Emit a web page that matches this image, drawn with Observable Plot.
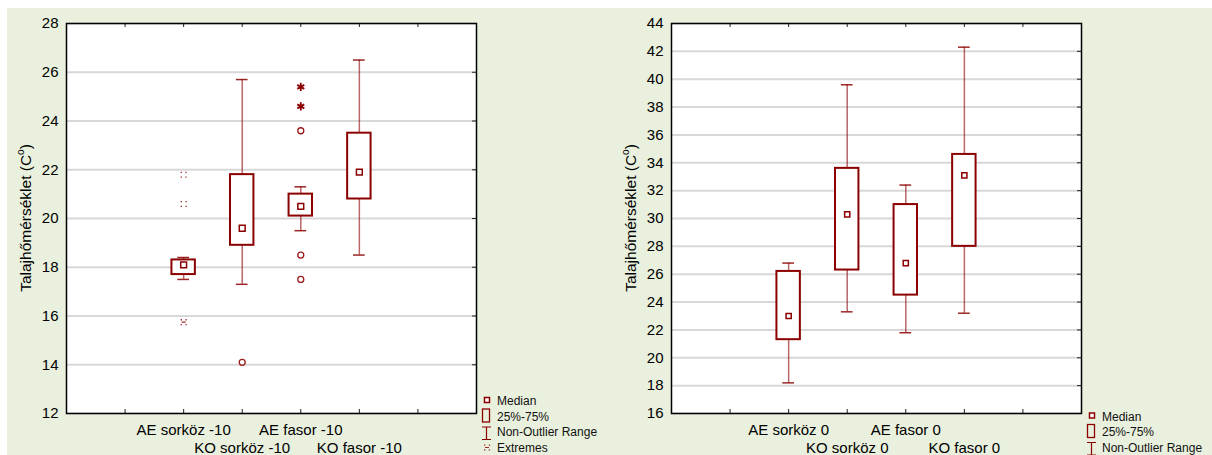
<!DOCTYPE html>
<html>
<head>
<meta charset="utf-8">
<script src="https://cdn.jsdelivr.net/npm/d3@7"></script>
<script src="https://cdn.jsdelivr.net/npm/@observablehq/plot@0.6"></script>
<style>
  body { margin: 0; background: #fff; }
  #wrap { position: relative; width: 1212px; height: 455px; overflow: hidden; background: #fff;
          font-family: "Liberation Sans", Arial, sans-serif; }
  #bg { position: absolute; left: 7px; top: 8px; right: 0; bottom: 0; background: #e9f0dd; }
  .panel { position: absolute; top: 0; }
</style>
</head>
<body>
<div id="wrap">
  <div id="bg"></div>
  <div id="p1" class="panel" style="left:0px"></div>
  <div id="p2" class="panel" style="left:605px"></div>
</div>
<script>
// ---------- DATA ----------
const yLabelMain = "Talajhőmérséklet (C";
const yLabelSup = "o";
const yLabelEnd = ")";

// Left panel (-10)
const leftCategories = ["AE sorköz -10", "KO sorköz -10", "AE fasor -10", "KO fasor -10"];
const leftWhiskerLow = [17.5, 17.3, 19.5, 18.5];
const leftQ1 = [17.7, 18.9, 20.1, 20.8];
const leftMedian = [18.1, 19.6, 20.5, 21.9];
const leftQ3 = [18.3, 21.8, 21.0, 23.5];
const leftWhiskerHigh = [18.4, 25.7, 21.3, 26.5];
const leftOutlierCats = ["KO sorköz -10", "AE fasor -10", "AE fasor -10", "AE fasor -10"];
const leftOutlierValues = [14.1, 23.6, 18.5, 17.5];
const leftExtremeCats = ["AE sorköz -10", "AE sorköz -10", "AE sorköz -10", "AE fasor -10", "AE fasor -10"];
const leftExtremeValues = [21.8, 20.6, 15.75, 25.4, 24.6];
const leftYDomain = [12, 28];

// Right panel (0)
const rightCategories = ["AE sorköz 0", "KO sorköz 0", "AE fasor 0", "KO fasor 0"];
const rightWhiskerLow = [18.2, 23.3, 21.8, 23.2];
const rightQ1 = [21.3, 26.3, 24.5, 28.0];
const rightMedian = [23.0, 30.3, 26.8, 33.1];
const rightQ3 = [26.2, 33.6, 31.0, 34.6];
const rightWhiskerHigh = [26.8, 39.6, 32.4, 42.3];
const rightYDomain = [16, 44];

// Legend labels
const legendMedian = "Median";
const legendBox = "25%-75%";
const legendRange = "Non-Outlier Range";
const legendExtremes = "Extremes";

// ---------- DRAWING ----------
const RED = "#8b0000";
const FONT = "'Liberation Sans', Arial, sans-serif";

const fourDots = {
  draw(ctx) {
    for (const [dx, dy] of [[-3, -3], [1.8, -3], [-3, 1.8], [1.8, 1.8]]) ctx.rect(dx, dy, 1.3, 1.3);
  }
};
const fourDotsDash = {
  draw(ctx) {
    for (const [dx, dy] of [[-3, -3], [1.8, -3], [-3, 1.8], [1.8, 1.8]]) ctx.rect(dx, dy, 1.3, 1.3);
    ctx.rect(-2, -0.6, 4, 1.2);
  }
};

function boxChart(el, cfg) {
  const cats = cfg.categories;
  const rows = cats.map((c, i) => ({cat: c, low: cfg.low[i], q1: cfg.q1[i], med: cfg.med[i], q3: cfg.q3[i], high: cfg.high[i]}));
  const slot = c => cats.indexOf(c) + 2;
  const outliers = (cfg.outlierCats || []).map((c, i) => ({cat: c, v: cfg.outlierValues[i]}));
  const extremes = (cfg.extremeCats || []).map((c, i) => ({cat: c, v: cfg.extremeValues[i]}));
  const rowOf = c => rows[cats.indexOf(c)];
  const isDotted = d => (rowOf(d.cat).q3 - rowOf(d.cat).q1) < 0.8;
  const dottedUp = extremes.filter(d => isDotted(d) && d.v > rowOf(d.cat).high);
  const dottedDown = extremes.filter(d => isDotted(d) && d.v < rowOf(d.cat).low);
  const stars = extremes.filter(d => !isDotted(d));

  const yTicks = d3.range(cfg.yDomain[0], cfg.yDomain[1] + 0.001, 2);
  const xTicks = d3.range(1, 7);
  const H = 455, mt = 23, mb = 42;
  const inner = H - mt - mb;

  const svg = Plot.plot({
    width: 606, height: H,
    marginLeft: 66, marginRight: 130, marginTop: mt, marginBottom: mb,
    style: {background: "transparent", fontFamily: FONT, color: "#000", overflow: "visible"},
    x: {type: "linear", domain: [0, 7], axis: null},
    y: {domain: cfg.yDomain, axis: null},
    marks: [
      Plot.frame({fill: "white"}),
      Plot.gridY(yTicks, {stroke: "#d8d8d8", strokeWidth: 2, strokeOpacity: 1}),
      Plot.tickX(xTicks, {x: d => d, insetBottom: inner - 4, stroke: "#222"}),
      Plot.tickX(xTicks, {x: d => d, insetTop: inner - 4, stroke: "#222"}),
      Plot.tickY(yTicks, {y: d => d, insetLeft: 406, stroke: "#222"}),
      Plot.axisY(yTicks, {tickSize: 0, tickPadding: 8, fontSize: 15, fill: "#000", label: null}),
      // whiskers
      Plot.ruleX(rows, {x: d => slot(d.cat), y1: "low", y2: "q1", stroke: RED, strokeOpacity: 0.6, strokeWidth: 1.5}),
      Plot.ruleX(rows, {x: d => slot(d.cat), y1: "q3", y2: "high", stroke: RED, strokeOpacity: 0.6, strokeWidth: 1.5}),
      Plot.ruleY(rows, {y: "low", x1: d => slot(d.cat) - 0.1, x2: d => slot(d.cat) + 0.1, stroke: RED, strokeWidth: 1.5, strokeOpacity: 0.85}),
      Plot.ruleY(rows, {y: "high", x1: d => slot(d.cat) - 0.1, x2: d => slot(d.cat) + 0.1, stroke: RED, strokeWidth: 1.5, strokeOpacity: 0.85}),
      // boxes
      Plot.rect(rows, {x1: d => slot(d.cat) - 0.2, x2: d => slot(d.cat) + 0.2, y1: "q1", y2: "q3", fill: "white", stroke: RED, strokeWidth: 2}),
      // medians
      Plot.dot(rows, {x: d => slot(d.cat), y: "med", symbol: "square", r: cfg.medR, fill: "white", stroke: RED, strokeWidth: 1.5}),
      // outliers
      Plot.dot(outliers, {x: d => slot(d.cat), y: "v", symbol: "circle", r: 3, fill: "none", stroke: "#9b1c1c", strokeWidth: 1.3}),
      // extremes
      Plot.dot(dottedUp, {x: d => slot(d.cat), y: "v", symbol: fourDots, fill: "#a52a2a", stroke: "none"}),
      Plot.dot(dottedDown, {x: d => slot(d.cat), y: "v", symbol: fourDotsDash, fill: "#a52a2a", stroke: "none"}),
      Plot.dot(stars, {x: d => slot(d.cat), y: "v", symbol: "asterisk", r: 3.8, fill: "none", stroke: RED, strokeWidth: 1.8}),
      Plot.frame({stroke: "#000", strokeWidth: 1.5}),
      // staggered category labels
      Plot.text(cats.filter((_, i) => i % 2 === 0), {x: d => slot(d), text: d => d, frameAnchor: "bottom", lineAnchor: "bottom", dy: 21, fontSize: 15, fill: "#000"}),
      Plot.text(cats.filter((_, i) => i % 2 === 1), {x: d => slot(d), text: d => d, frameAnchor: "bottom", lineAnchor: "bottom", dy: 39, fontSize: 15, fill: "#000"})
    ]
  });

  const s = d3.select(svg);
  // y axis label with superscript
  const t = s.append("text")
    .attr("transform", `translate(31,${mt + inner / 2}) rotate(-90)`)
    .attr("text-anchor", "middle")
    .attr("font-family", FONT)
    .attr("font-size", 15.5)
    .attr("fill", "#000");
  t.append("tspan").text(yLabelMain);
  t.append("tspan").attr("font-size", 10).attr("dy", -7).text(yLabelSup);
  t.append("tspan").attr("dy", 7).text(yLabelEnd);

  // legend
  const items = cfg.legend;
  const lastBase = 451.5, step = 15.5;
  const g = s.append("g").attr("font-family", FONT).attr("font-size", 12).attr("fill", "#111").attr("text-anchor", "start");
  items.forEach((it, i) => {
    const b = lastBase - (items.length - 1 - i) * step;
    const cx = 487;
    if (it.type === "median") {
      g.append("rect").attr("x", cx - 2.5).attr("y", b - 7.5).attr("width", 5).attr("height", 5)
        .attr("fill", "white").attr("stroke", RED).attr("stroke-width", 1.5);
    } else if (it.type === "box") {
      g.append("rect").attr("x", cx - 4.5).attr("y", b - 11.5).attr("width", 7).attr("height", 13)
        .attr("fill", "none").attr("stroke", RED).attr("stroke-width", 1.3);
    } else if (it.type === "range") {
      g.append("path").attr("d", `M${cx - 5},${b - 9}H${cx + 4}M${cx - 0.5},${b - 9}V${b + 3.5}M${cx - 5},${b + 3.5}H${cx + 4}`)
        .attr("fill", "none").attr("stroke", RED).attr("stroke-width", 1.2);
    } else if (it.type === "extreme") {
      const p = d3.path();
      fourDotsDash.draw(p);
      g.append("path").attr("transform", `translate(${cx},${b - 4})`).attr("d", p.toString())
        .attr("fill", "#a52a2a");
    }
    g.append("text").attr("x", 497).attr("y", b).attr("text-anchor", "start").text(it.label);
  });

  el.appendChild(svg);
}

boxChart(document.getElementById("p1"), {
  categories: leftCategories, low: leftWhiskerLow, q1: leftQ1, med: leftMedian, q3: leftQ3, high: leftWhiskerHigh,
  outlierCats: leftOutlierCats, outlierValues: leftOutlierValues,
  extremeCats: leftExtremeCats, extremeValues: leftExtremeValues,
  yDomain: leftYDomain, medR: 3.3,
  legend: [
    {type: "median", label: legendMedian},
    {type: "box", label: legendBox},
    {type: "range", label: legendRange},
    {type: "extreme", label: legendExtremes}
  ]
});

boxChart(document.getElementById("p2"), {
  categories: rightCategories, low: rightWhiskerLow, q1: rightQ1, med: rightMedian, q3: rightQ3, high: rightWhiskerHigh,
  yDomain: rightYDomain, medR: 2.9,
  legend: [
    {type: "median", label: legendMedian},
    {type: "box", label: legendBox},
    {type: "range", label: legendRange}
  ]
});
</script>
</body>
</html>
